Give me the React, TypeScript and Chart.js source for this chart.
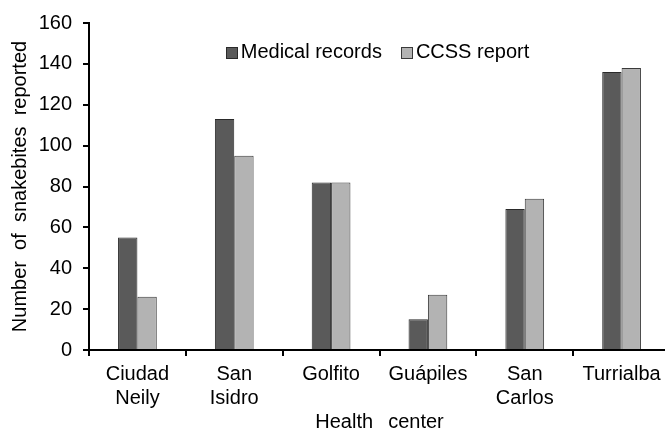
import React, { useEffect, useRef } from 'react';
import { Chart, registerables } from 'chart.js';

Chart.register(...registerables);

const categories: (string | string[])[] = [
  ['Ciudad', 'Neily'],
  ['San', 'Isidro'],
  'Golfito',
  'Guápiles',
  ['San', 'Carlos'],
  'Turrialba',
];
const medicalRecords = [55, 113, 82, 15, 69, 136];
const ccssReport = [26, 95, 82, 27, 74, 138];
const yMin = 0;
const yMax = 160;
const yStep = 20;

const FONT = '"Liberation Sans", Arial, sans-serif';
const TEXT = '#000';

const insideLegend = {
  id: 'insideLegend',
  afterDatasetsDraw(chart: any) {
    const { ctx, chartArea } = chart;
    ctx.save();
    ctx.font = `20px ${FONT}`;
    ctx.textBaseline = 'alphabetic';
    const box = 12;
    const gapText = 3;
    const gapItem = 19;
    const items = chart.data.datasets.map((ds: any) => ({
      label: ds.label,
      fill: ds.backgroundColor,
      stroke: ds.borderColor,
      w: ctx.measureText(ds.label).width,
    }));
    const total =
      items.reduce((s: number, it: any) => s + box + gapText + it.w, 0) +
      gapItem * (items.length - 1);
    let x = (chartArea.left + chartArea.right) / 2 - 2 - total / 2;
    const boxTop = chartArea.top + 24;
    const baseline = chartArea.top + 35;
    for (const it of items) {
      ctx.fillStyle = it.fill;
      ctx.fillRect(Math.round(x), boxTop, box, box);
      ctx.strokeStyle = it.stroke;
      ctx.lineWidth = 1;
      ctx.strokeRect(Math.round(x) + 0.5, boxTop + 0.5, box - 1, box - 1);
      x += box + gapText;
      ctx.fillStyle = TEXT;
      ctx.fillText(it.label, x, baseline);
      x += it.w + gapItem;
    }
    ctx.restore();
  },
};

export default function App() {
  const ref = useRef<HTMLCanvasElement>(null);
  useEffect(() => {
    if (!ref.current) return;
    const chart = new Chart(ref.current, {
      type: 'bar',
      data: {
        labels: categories as any,
        datasets: [
          {
            label: 'Medical records',
            data: medicalRecords,
            backgroundColor: '#5a5a5a',
            borderColor: '#2a2a2a',
            borderWidth: 1,
            categoryPercentage: 0.4,
            barPercentage: 1.0,
          },
          {
            label: 'CCSS report',
            data: ccssReport,
            backgroundColor: '#b3b3b3',
            borderColor: '#3a3a3a',
            borderWidth: 1,
            categoryPercentage: 0.4,
            barPercentage: 1.0,
          },
        ],
      },
      options: {
        responsive: false,
        animation: false,
        devicePixelRatio: 1,
        layout: { padding: { top: 20, right: 2, left: 0, bottom: 0 } },
        plugins: {
          legend: { display: false },
          tooltip: { enabled: false },
        },
        scales: {
          x: {
            offset: true,
            grid: {
              display: true,
              offset: true,
              drawOnChartArea: false,
              drawTicks: true,
              tickLength: 6,
              color: '#000',
              lineWidth: 2,
            },
            border: { display: true, color: '#000', width: 2 },
            ticks: {
              color: TEXT,
              font: { family: FONT, size: 20, lineHeight: 1.2 },
              padding: 6,
              maxRotation: 0,
              autoSkip: false,
            },
            title: {
              display: true,
              text: 'Health  \u2009center',
              color: TEXT,
              font: { family: FONT, size: 20, lineHeight: 0.85 },
              padding: { top: 0, bottom: 0 },
            },
            afterFit: (scale: any) => {
              scale.height = 81;
            },
          },
          y: {
            min: yMin,
            max: yMax,
            ticks: {
              stepSize: yStep,
              color: TEXT,
              font: { family: FONT, size: 20 },
              padding: 11,
            },
            grid: {
              display: true,
              drawOnChartArea: false,
              drawTicks: true,
              tickLength: 6,
              color: '#000',
              lineWidth: 2,
            },
            border: { display: true, color: '#000', width: 2 },
            title: {
              display: true,
              text: 'Number  of  snakebites  reported',
              color: TEXT,
              font: { family: FONT, size: 20, lineHeight: 1.2 },
              padding: { top: 8, bottom: 0 },
            },
            afterFit: (scale: any) => {
              scale.width = 89;
            },
          },
        },
      },
      plugins: [insideLegend],
    });
    return () => chart.destroy();
  }, []);

  return (
    <div
      style={{
        position: 'absolute',
        left: 0,
        top: 0,
        width: 665,
        height: 431,
        overflow: 'hidden',
        background: '#fff',
      }}
    >
      <canvas ref={ref} width={672} height={431} style={{ display: 'block' }} />
    </div>
  );
}
